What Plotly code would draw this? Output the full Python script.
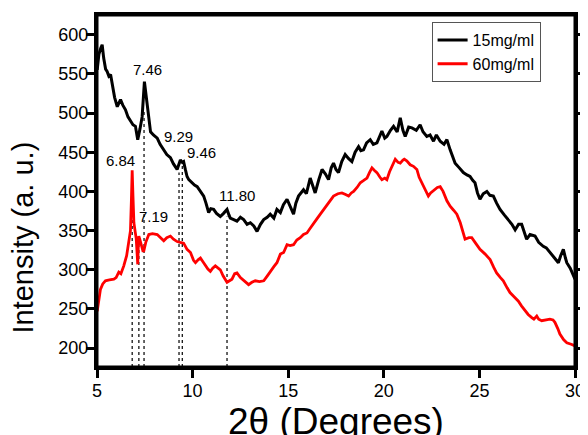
import plotly.graph_objects as go

# ---------------- data ----------------
x_15 = [5.01, 5.10, 5.20, 5.27, 5.35, 5.45, 5.53, 5.62, 5.71, 5.80, 5.92, 6.06, 6.15, 6.23, 6.35, 6.49,
        6.62, 6.75, 6.88, 7.01, 7.13, 7.25, 7.36, 7.48, 7.55, 7.62, 7.70, 7.80, 7.95, 8.15, 8.30, 8.47,
        8.65, 8.84, 9.00, 9.19, 9.29, 9.36, 9.46, 9.53, 9.62, 9.71, 9.80, 9.97, 10.10, 10.24, 10.40,
        10.58, 10.70, 10.84, 10.95, 11.10, 11.25, 11.45, 11.62, 11.80, 11.90, 11.97, 12.15, 12.32,
        12.50, 12.67, 12.85, 13.02, 13.20, 13.37, 13.55, 13.72, 13.90, 14.06, 14.25, 14.41, 14.59,
        14.75, 14.94, 15.10, 15.28, 15.40, 15.54, 15.80, 15.95, 16.15, 16.30, 16.41, 16.60, 16.77,
        16.95, 17.11, 17.25, 17.37, 17.50, 17.63, 17.80, 17.98, 18.15, 18.33, 18.50, 18.68, 18.80,
        18.94, 19.10, 19.29, 19.45, 19.64, 19.78, 19.90, 20.05, 20.16, 20.35, 20.51, 20.70, 20.86,
        21.00, 21.12, 21.30, 21.47, 21.70, 21.90, 22.05, 22.25, 22.42, 22.60, 22.75, 22.95, 23.15,
        23.30, 23.47, 23.60, 23.73, 23.95, 24.16, 24.35, 24.51, 24.65, 24.77, 24.90, 25.03, 25.20,
        25.39, 25.55, 25.73, 25.90, 26.08, 26.30, 26.51, 26.70, 26.87, 27.05, 27.21, 27.35, 27.47,
        27.65, 27.91, 28.10, 28.34, 28.50, 28.69, 28.90, 29.13, 29.25, 29.39, 29.50, 29.57, 29.75,
        29.91, 30.00]
y_15 = [555, 575, 583, 587, 570, 556, 553, 547, 549, 535, 520, 508, 514, 517, 510, 504,
        495, 489, 485, 483, 466, 480, 495, 540, 525, 508, 490, 476, 472, 468, 460, 453,
        447, 443, 435, 428, 434, 440, 437, 438, 428, 419, 415, 411, 408, 406, 400,
        394, 385, 373, 378, 377, 372, 368, 372, 377, 370, 366, 364, 362,
        367, 364, 358, 360, 356, 349, 358, 364, 367, 371, 366, 377, 373,
        383, 390, 382, 371, 385, 394, 402, 397, 417, 405, 398, 415, 428,
        422, 415, 430, 436, 428, 424, 438, 447, 442, 438, 450, 457, 452,
        453, 462, 466, 460, 462, 470, 477, 468, 470, 478, 483, 476, 494,
        478, 470, 482, 481, 478, 485, 476, 470, 472, 464, 472, 464, 460,
        466, 453, 445, 436, 430, 424, 421, 419, 414, 411, 398, 390, 397,
        400, 395, 394, 385, 377, 370, 364, 358, 351, 358, 358, 346, 339,
        345, 343, 335, 330, 328, 322, 316, 309, 318, 326, 315, 309, 302,
        292, 288]

x_60 = [5.01, 5.10, 5.18, 5.30, 5.44, 5.65, 5.88, 6.00, 6.14, 6.25, 6.40, 6.55, 6.66, 6.75, 6.80,
        6.84, 6.88, 6.93, 7.00, 7.05, 7.10, 7.13, 7.16, 7.19, 7.25, 7.33, 7.40, 7.45, 7.55, 7.71,
        7.90, 8.15, 8.30, 8.49, 8.65, 8.84, 9.00, 9.19, 9.35, 9.53, 9.71, 9.89, 10.05, 10.15, 10.30,
        10.41, 10.55, 10.67, 10.80, 10.93, 11.05, 11.19, 11.32, 11.45, 11.60, 11.80, 11.93, 12.06,
        12.20, 12.32, 12.50, 12.67, 12.80, 12.93, 13.10, 13.28, 13.50, 13.72, 13.90, 14.06, 14.25,
        14.41, 14.59, 14.76, 14.94, 15.10, 15.28, 15.45, 15.63, 15.80, 15.98, 16.15, 16.33, 16.50,
        16.68, 16.85, 17.03, 17.20, 17.37, 17.60, 17.81, 18.00, 18.16, 18.30, 18.42, 18.60, 18.77,
        18.95, 19.12, 19.25, 19.38, 19.50, 19.64, 19.80, 19.90, 20.05, 20.16, 20.30, 20.42, 20.60,
        20.75, 20.86, 21.00, 21.07, 21.20, 21.38, 21.55, 21.73, 21.85, 21.99, 22.15, 22.33, 22.45,
        22.60, 22.80, 22.95, 23.10, 23.30, 23.47, 23.65, 23.82, 24.00, 24.25, 24.45, 24.60, 24.80,
        25.03, 25.30, 25.56, 25.75, 25.90, 26.10, 26.25, 26.45, 26.60, 26.80, 27.04, 27.20, 27.39,
        27.55, 27.74, 27.85, 28.00, 28.10, 28.26, 28.45, 28.69, 28.85, 28.95, 29.10, 29.21, 29.40,
        29.57, 29.80, 30.00]
y_60 = [247, 265, 275, 282, 286, 287, 288, 290, 297, 295, 305, 318, 334, 350, 390,
        427, 395, 360, 348, 340, 320, 307, 330, 343, 338, 330, 324, 324, 335, 345,
        346, 345, 341, 337, 341, 343, 339, 336, 335, 334, 326, 322, 312, 309, 313,
        315, 310, 305, 301, 298, 302, 305, 303, 300, 292, 284, 286, 288,
        295, 296, 290, 286, 283, 281, 284, 286, 285, 286, 292, 298, 304,
        309, 320, 322, 332, 331, 332, 338, 341, 345, 347, 353, 360, 365,
        371, 377, 383, 389, 394, 397, 398, 396, 394, 398, 400, 405, 411,
        414, 417, 424, 430, 427, 424, 418, 415, 417, 415, 425, 432, 441,
        437, 436, 440, 441, 439, 434, 432, 428, 418, 411, 404, 394, 398,
        401, 405, 406, 400, 388, 381, 376, 371, 360, 339, 341, 341, 334,
        326, 320, 313, 303, 296, 290, 286, 277, 271, 266, 260, 254, 248,
        243, 239, 237, 241, 237, 235, 236, 237, 236, 233, 225, 218, 211,
        207, 205, 203]

series_names = ["15mg/ml", "60mg/ml"]

peak_x = [6.84, 7.19, 7.46, 9.29, 9.46, 11.80]
peak_top = [427, 343, 504, 424, 434, 368]

# ---------------- layout constants ----------------
X_RANGE = [5, 30]
Y_RANGE = [176, 625]
FONT = "Arial, Liberation Sans, sans-serif"
INK = "#000000"
# label placement (data coords) for each peak label, same order as peak_x
label_pos = [(6.23, 440), (7.95, 368), (7.62, 556), (9.26, 470), (10.44, 450), (12.33, 395)]

fig = go.Figure()

# dotted guide lines from the curve down to the axis
gx, gy = [], []
for px, pt in zip(peak_x, peak_top):
    gx += [px, px, None]
    gy += [Y_RANGE[0], pt, None]
fig.add_trace(go.Scatter(x=gx, y=gy, mode="lines", showlegend=False, hoverinfo="skip",
                         line=dict(color=INK, width=1.2, dash="dot")))

fig.add_trace(go.Scatter(x=x_15, y=y_15, mode="lines", name=series_names[0],
                         line=dict(color=INK, width=3)))
fig.add_trace(go.Scatter(x=x_60, y=y_60, mode="lines", name=series_names[1],
                         line=dict(color="#ff0000", width=2.8)))

for px, (lx, ly) in zip(peak_x, label_pos):
    fig.add_annotation(x=lx, y=ly, text=f"{px:.2f}", showarrow=False,
                       font=dict(family=FONT, size=15, color=INK),
                       xanchor="center", yanchor="middle")

# axis titles placed as paper annotations (x title partly cut at the bottom edge like the original)
fig.add_annotation(xref="paper", yref="paper", x=0.5, y=-0.09, yanchor="top", xanchor="center",
                   text="2θ (Degrees)", showarrow=False,
                   font=dict(family=FONT, size=37, color=INK))
fig.add_annotation(xref="paper", yref="paper", x=-0.154, y=0.369, yanchor="middle", xanchor="center",
                   text="Intensity (a. u.)", showarrow=False, textangle=-90,
                   font=dict(family=FONT, size=29, color=INK))

# frame around the plot area
fig.add_shape(type="rect", xref="paper", yref="paper", x0=0, y0=0, x1=1, y1=1,
              line=dict(color=INK, width=3), layer="above")

# the page body adds an 8px offset, so the figure is 8px smaller and margins shifted
fig.update_layout(
    width=580, height=427,
    margin=dict(l=89, r=13, t=7, b=68, autoexpand=False),
    paper_bgcolor="white", plot_bgcolor="white",
    font=dict(family=FONT, color=INK),
    showlegend=True,
    legend=dict(x=0.70, y=0.98, xanchor="left", yanchor="top",
                bgcolor="white", bordercolor="#555555", borderwidth=1,
                font=dict(family=FONT, size=16, color=INK),
                tracegroupgap=0),
    xaxis=dict(range=X_RANGE, tickmode="linear", tick0=5, dtick=5, ticks="outside", ticklen=8, tickwidth=3,
               tickcolor=INK, showline=True, linewidth=3, linecolor=INK, mirror=True, layer="above traces",
               showgrid=False, zeroline=False, ticklabelstandoff=-3,
               tickfont=dict(family=FONT, size=18, color=INK)),
    yaxis=dict(range=Y_RANGE, tickmode="linear", tick0=200, dtick=50, ticks="outside", ticklen=8, tickwidth=3,
               tickcolor=INK, showline=True, linewidth=3, linecolor=INK, mirror="ticks", layer="above traces",
               showgrid=False, zeroline=False, ticklabelstandoff=-6,
               tickfont=dict(family=FONT, size=18, color=INK)),
)

fig.write_html("out.html")
